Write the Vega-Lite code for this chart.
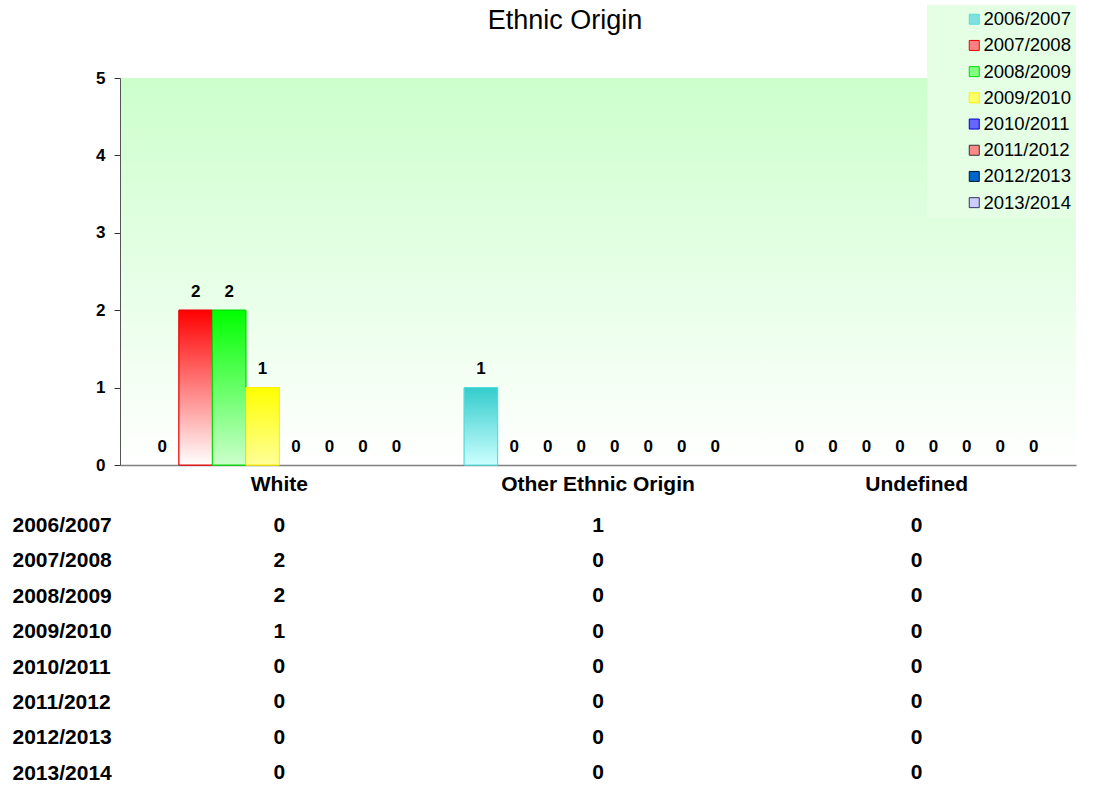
{
  "$schema": "https://vega.github.io/schema/vega-lite/v6.json",
  "padding": {"left": 12, "top": 5, "right": 5, "bottom": 0},
  "background": "white",
  "config": {"font": "Liberation Sans"},
  "spacing": 20,
  "datasets": {
    "d": [
      {"category": "White", "year": "2006/2007", "value": 0},
      {"category": "White", "year": "2007/2008", "value": 2},
      {"category": "White", "year": "2008/2009", "value": 2},
      {"category": "White", "year": "2009/2010", "value": 1},
      {"category": "White", "year": "2010/2011", "value": 0},
      {"category": "White", "year": "2011/2012", "value": 0},
      {"category": "White", "year": "2012/2013", "value": 0},
      {"category": "White", "year": "2013/2014", "value": 0},
      {"category": "Other Ethnic Origin", "year": "2006/2007", "value": 1},
      {"category": "Other Ethnic Origin", "year": "2007/2008", "value": 0},
      {"category": "Other Ethnic Origin", "year": "2008/2009", "value": 0},
      {"category": "Other Ethnic Origin", "year": "2009/2010", "value": 0},
      {"category": "Other Ethnic Origin", "year": "2010/2011", "value": 0},
      {"category": "Other Ethnic Origin", "year": "2011/2012", "value": 0},
      {"category": "Other Ethnic Origin", "year": "2012/2013", "value": 0},
      {"category": "Other Ethnic Origin", "year": "2013/2014", "value": 0},
      {"category": "Undefined", "year": "2006/2007", "value": 0},
      {"category": "Undefined", "year": "2007/2008", "value": 0},
      {"category": "Undefined", "year": "2008/2009", "value": 0},
      {"category": "Undefined", "year": "2009/2010", "value": 0},
      {"category": "Undefined", "year": "2010/2011", "value": 0},
      {"category": "Undefined", "year": "2011/2012", "value": 0},
      {"category": "Undefined", "year": "2012/2013", "value": 0},
      {"category": "Undefined", "year": "2013/2014", "value": 0}
    ]
  },
  "vconcat": [
    {
      "width": 956,
      "height": 387,
      "view": {
        "stroke": null,
        "fill": {"gradient": "linear", "x1": 0, "y1": 0, "x2": 0, "y2": 1,
          "stops": [{"offset": 0, "color": "#ccffcc"}, {"offset": 1, "color": "#ffffff"}]}
      },
      "title": {"text": "Ethnic Origin", "fontSize": 27, "fontWeight": "normal", "color": "black", "anchor": "middle", "frame": "group", "dx": -33, "offset": 34},
      "data": {"name": "d"},
      "encoding": {
        "x": {
          "field": "category", "type": "nominal",
          "sort": ["White", "Other Ethnic Origin", "Undefined"],
          "scale": {"domain": ["White", "Other Ethnic Origin", "Undefined"], "paddingInner": 0.16, "paddingOuter": 0.08},
          "axis": {"title": null, "labelAngle": 0, "labelFontSize": 21, "labelFontWeight": "bold", "labelColor": "black", "labelLimit": 0, "ticks": false, "labelPadding": 8, "domainColor": "#808080", "domainWidth": 1.5, "grid": false}
        },
        "xOffset": {
          "field": "year", "type": "nominal",
          "scale": {"domain": ["2006/2007", "2007/2008", "2008/2009", "2009/2010", "2010/2011", "2011/2012", "2012/2013", "2013/2014"], "paddingInner": 0, "paddingOuter": 0}
        },
        "y": {
          "field": "value", "type": "quantitative",
          "scale": {"domain": [0, 5], "nice": false},
          "axis": {"values": [0, 1, 2, 3, 4, 5], "format": "d", "title": null, "grid": false, "labelFontSize": 17, "labelFontWeight": "bold", "labelColor": "black", "tickColor": "#333333", "tickSize": 6, "labelPadding": 9, "domainColor": "#555555", "labelFlush": false}
        }
      },
      "layer": [
        {
          "transform": [{"filter": "datum.value > 0"}],
          "mark": {"type": "bar", "strokeWidth": 1},
          "encoding": {
            "fill": {
              "field": "year", "type": "nominal",
              "scale": {
                "domain": ["2006/2007", "2007/2008", "2008/2009", "2009/2010", "2010/2011", "2011/2012", "2012/2013", "2013/2014"],
                "range": ["#7fe0e0", "#ff8080", "#80ff80", "#ffff66", "#6666ff", "#ff8888", "#0066cc", "#ccccff"]
              },
              "legend": {
                "orient": "none", "legendX": 807, "legendY": -73, "title": null,
                "symbolType": "square", "symbolSize": 100, "symbolStrokeWidth": 1,
                "labelFontSize": 18.5, "labelColor": "black", "labelLimit": 0, "padding": 5, "rowPadding": 7.2,
                "symbolOffset": 33, "labelOffset": 0,
                "fillColor": "#e4ffe4"
              }
            },
            "stroke": {
              "field": "year", "type": "nominal",
              "scale": {
                "domain": ["2006/2007", "2007/2008", "2008/2009", "2009/2010", "2010/2011", "2011/2012", "2012/2013", "2013/2014"],
                "range": ["#55dddd", "#ee0000", "#00dd00", "#ffee00", "#0000cc", "#333333", "#001a33", "#333366"]
              },
              "legend": {
                "orient": "none", "legendX": 807, "legendY": -73, "title": null,
                "symbolType": "square", "symbolSize": 100, "symbolStrokeWidth": 1,
                "labelFontSize": 18.5, "labelColor": "black", "labelLimit": 0, "padding": 5, "rowPadding": 7.2,
                "symbolOffset": 33, "labelOffset": 0,
                "fillColor": "#e4ffe4"
              }
            }
          }
        },
        {
          "transform": [{"filter": "datum.value > 0 && datum.year == '2006/2007'"}],
          "mark": {"type": "bar", "strokeWidth": 1, "stroke": "#55dddd",
            "fill": {"gradient": "linear", "x1": 0, "y1": 0, "x2": 0, "y2": 1, "stops": [{"offset": 0, "color": "#33cccc"}, {"offset": 1, "color": "#ccffff"}]}},
          "encoding": {}
        },
        {
          "transform": [{"filter": "datum.value > 0 && datum.year == '2007/2008'"}],
          "mark": {"type": "bar", "strokeWidth": 1, "stroke": "#ee0000",
            "fill": {"gradient": "linear", "x1": 0, "y1": 0, "x2": 0, "y2": 1, "stops": [{"offset": 0, "color": "#ff0000"}, {"offset": 1, "color": "#ffffff"}]}},
          "encoding": {}
        },
        {
          "transform": [{"filter": "datum.value > 0 && datum.year == '2008/2009'"}],
          "mark": {"type": "bar", "strokeWidth": 1, "stroke": "#00dd00",
            "fill": {"gradient": "linear", "x1": 0, "y1": 0, "x2": 0, "y2": 1, "stops": [{"offset": 0, "color": "#00ff00"}, {"offset": 1, "color": "#ccffcc"}]}},
          "encoding": {}
        },
        {
          "transform": [{"filter": "datum.value > 0 && datum.year == '2009/2010'"}],
          "mark": {"type": "bar", "strokeWidth": 1, "stroke": "#ffee00",
            "fill": {"gradient": "linear", "x1": 0, "y1": 0, "x2": 0, "y2": 1, "stops": [{"offset": 0, "color": "#ffff00"}, {"offset": 1, "color": "#ffff99"}]}},
          "encoding": {}
        },
        {
          "mark": {"type": "text", "dy": -13.5, "baseline": "alphabetic", "fontSize": 17, "fontWeight": "bold", "color": "black"},
          "encoding": {"text": {"field": "value", "type": "quantitative"}}
        }
      ]
    },
    {
      "width": 956,
      "height": 268.7,
      "view": {"stroke": null},
      "data": {"name": "d"},
      "mark": {"type": "text", "fontSize": 21, "fontWeight": "bold", "color": "black"},
      "encoding": {
        "x": {
          "field": "category", "type": "nominal",
          "sort": ["White", "Other Ethnic Origin", "Undefined"],
          "scale": {"domain": ["White", "Other Ethnic Origin", "Undefined"], "paddingInner": 0.16, "paddingOuter": 0.08},
          "axis": null
        },
        "y": {
          "field": "year", "type": "nominal",
          "sort": ["2006/2007", "2007/2008", "2008/2009", "2009/2010", "2010/2011", "2011/2012", "2012/2013", "2013/2014"],
          "scale": {"type": "point", "padding": 0.3},
          "axis": {"title": null, "domain": false, "ticks": false, "tickSize": 0, "labelAlign": "left", "labelPadding": 108, "labelFontSize": 21, "labelFontWeight": "bold", "labelColor": "black", "grid": false}
        },
        "text": {"field": "value", "type": "quantitative"}
      }
    }
  ]
}
